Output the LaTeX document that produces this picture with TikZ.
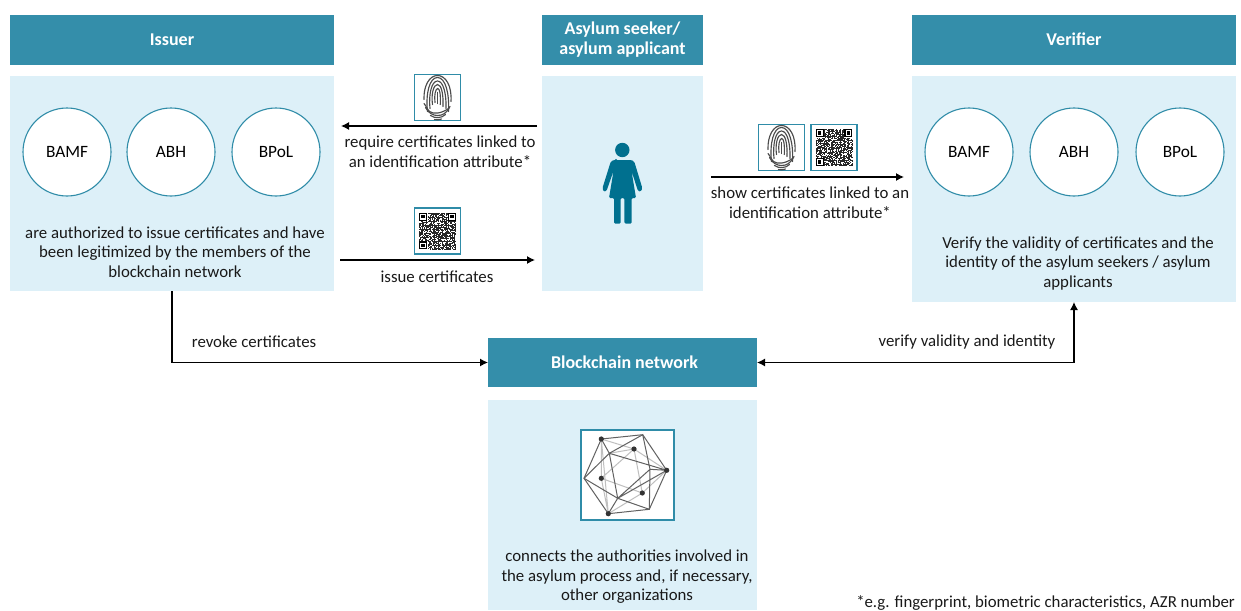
\documentclass[tikz,border=0pt]{standalone}
\usepackage{fontspec}
\setmainfont{Carlito}
\usetikzlibrary{arrows.meta}
\definecolor{headblue}{HTML}{348EAA}
\definecolor{panelblue}{HTML}{DDF0F8}
\definecolor{ringblue}{HTML}{2F8CA8}
\definecolor{personblue}{HTML}{00708F}
\newcommand\droptext[1]{\raisebox{-1pt}{#1}}
\tikzset{
  headbox/.style={fill=headblue,text=white,font=\fontsize{18}{20}\selectfont\bfseries,align=center,inner sep=0pt,outer sep=0pt},
  panelbox/.style={fill=panelblue,inner sep=0pt,outer sep=0pt},
  ringnode/.style={circle,draw=ringblue,line width=1.1pt,fill=white,minimum size=88pt,inner sep=0pt,font=\fontsize{17.3}{20}\selectfont},
  lbl/.style={align=center,inner sep=0pt,font=\fontsize{16.8}{19.5}\selectfont,text=black!90},
  iconbox/.style={draw=ringblue,line width=1.3pt,fill=white,minimum size=46pt,inner sep=0pt},
  flow/.style={line width=1.2pt,-{Latex[length=8pt,width=8pt]}},
  flowboth/.style={line width=1.2pt,{Latex[length=8pt,width=8pt]}-{Latex[length=8pt,width=8pt]}},
  fpline/.style={draw=black!70,line width=1.15pt,line cap=round},
  meshdark/.style={draw=black!62,line width=1pt},
  meshlight/.style={draw=black!25,line width=1pt},
  fingerprint/.pic={
    \draw[fpline] (-10,14) .. controls (-12,-4) and (-8,-20) .. (0,-20) .. controls (8,-20) and (12,-4) .. (11,14);
    \draw[fpline] (-7.5,11) .. controls (-9,-3) and (-6,-16.5) .. (0,-16.5) .. controls (6,-16.5) and (9,-3) .. (8.5,11);
    \draw[fpline] (-5,7) .. controls (-6.5,-3) and (-4,-13) .. (0,-13) .. controls (4,-13) and (6,-3) .. (5.5,9);
    \draw[fpline] (-2.5,5) .. controls (-3.5,-2) and (-2,-9) .. (0.2,-9) .. controls (2.5,-9) and (3.2,-2) .. (2.8,7);
    \draw[fpline] (0.2,6) -- (0.2,-5);
    \draw[fpline] (-13.5,2) .. controls (-14,-12) and (-8,-22) .. (0,-22) .. controls (8,-22) and (14.5,-12) .. (13.5,4);
    \draw[fpline] (-13.5,6) .. controls (-10,10) and (-11,12) .. (-8,14) .. controls (-4,17) and (4,16) .. (11,11);
    \draw[fpline] (-12,10) .. controls (-9,16) and (-4,18) .. (0,18) .. controls (5,18) and (9,16) .. (12.5,9);
    \draw[fpline] (-7,18) .. controls (-3,21) and (4,21) .. (8,17);
    \draw[fpline] (-3,22) .. controls (-1,22.5) and (2,22.5) .. (4,21.5);
  },
  qrcode/.pic={
    \pgfmathsetseed{4711}
    \foreach \i in {0,...,45}{\foreach \j in {0,...,45}{
      \pgfmathparse{rnd<0.55?1:0}
      \ifnum\pgfmathresult=1
        \fill[black!85] ({-18.4+0.8*\i},{-18.4+0.8*\j}) rectangle +(0.8,0.8);
      \fi
    }}
    \foreach \cx/\cy in {-14.4/-14.4,14.4/-14.4,-14.4/14.4}{
      \fill[white] (\cx-4.4,\cy-4.4) rectangle (\cx+4.4,\cy+4.4);
      \fill[black] (\cx-4,\cy-4) rectangle (\cx+4,\cy+4);
      \fill[white] (\cx-2.9,\cy-2.9) rectangle (\cx+2.9,\cy+2.9);
      \fill[black] (\cx-1.7,\cy-1.7) rectangle (\cx+1.7,\cy+1.7);
    }
  }
}
\begin{document}
\begin{tikzpicture}[x=1pt,y=-1pt]
\useasboundingbox (0,0) rectangle (1241,610);
% panels and headers
\node[headbox,minimum width=324pt,minimum height=50pt] (issuerhead) at (172,40) {Issuer};
\node[panelbox,minimum width=324pt,minimum height=215pt] (issuerpanel) at (172,183.5) {};
\node[headbox,minimum width=161pt,minimum height=50pt] (seekerhead) at (622.5,40) {\droptext{Asylum seeker/}\\\droptext{asylum applicant}};
\node[panelbox,minimum width=161pt,minimum height=215pt] (seekerpanel) at (622.5,183.5) {};
\node[headbox,minimum width=324pt,minimum height=50pt] (verifierhead) at (1074,40) {\raisebox{.8pt}{Verifier}};
\node[panelbox,minimum width=324pt,minimum height=226pt] (verifierpanel) at (1074,189) {};
\node[headbox,minimum width=269pt,minimum height=49pt] (chainhead) at (622.5,362.5) {\hspace*{4pt}\droptext{Blockchain network}};
\node[panelbox,minimum width=269pt,minimum height=210pt] (chainpanel) at (622.5,505) {};
% rings
\node[ringnode] (bamfa) at (67,152) {BAMF};
\node[ringnode] (abha) at (171,152) {ABH};
\node[ringnode] (bpola) at (276,152) {BPoL};
\node[ringnode] (bamfb) at (969,152) {BAMF};
\node[ringnode] (abhb) at (1074,152) {ABH};
\node[ringnode] (bpolb) at (1180,152) {BPoL};
% panel texts
\node[lbl] (issuertext) at (175,252) {are authorized to issue certificates and have\\been legitimized by the members of the\\blockchain network};
\node[lbl] (verifiertext) at (1078,263.5) {Verify the validity of certificates and the\\identity of the asylum seekers / asylum\\applicants};
\node[lbl] (chaintext) at (627,577) {connects the authorities involved in\\the asylum process and, if necessary,\\other organizations};
% person
\fill[personblue] (622.3,150) circle (7.2pt);
\fill[personblue,rounded corners=1.2pt] (616,160) -- (629,160) .. controls (632,160) and (634,161) .. (635,164) -- (642.3,188) -- (641,191.5) -- (638,191) -- (631.5,171) -- (636,198) -- (631.7,198) -- (631.7,223.5) -- (624.4,223.5) -- (624.4,198) -- (620.7,198) -- (620.7,223.5) -- (614,223.5) -- (614,198) -- (609,198) -- (613.5,171) -- (606.5,191) -- (603.5,191.5) -- (602.5,188) -- (610,164) .. controls (611,161) and (613,160) .. (616,160) -- cycle;
% icons
\node[iconbox] (fpa) at (437.5,97.5) {};
\pic at (fpa) {fingerprint};
\node[iconbox] (qra) at (437.5,231) {};
\pic at (qra) {qrcode};
\node[iconbox] (fpb) at (781.5,147.5) {};
\pic at (fpb) {fingerprint};
\node[iconbox] (qrb) at (834,147.5) {};
\pic at (qrb) {qrcode};
% network icon
\node[iconbox,minimum width=93pt,minimum height=90pt] (netbox) at (627.5,475) {};
\coordinate (A) at (601.3,439);
\coordinate (B) at (634,449);
\coordinate (C) at (666.7,470.3);
\coordinate (D) at (601.3,478.3);
\coordinate (E) at (642.3,493);
\coordinate (F) at (608.3,513.7);
\coordinate (G) at (642.7,434.7);
\coordinate (H) at (609.3,453.3);
\coordinate (I) at (650,469.3);
\coordinate (J) at (584,478.3);
\coordinate (K) at (617.7,498.3);
\coordinate (L) at (649.3,509.3);
\draw[meshlight] (A)--(B) (B)--(C) (B)--(E) (D)--(B) (D)--(E) (D)--(F) (D)--(A) (E)--(F) (E)--(C) (H)--(B) (F)--(A);
\draw[meshdark] (A)--(G)--(C)--(L)--(F)--(J)--cycle;
\draw[meshdark] (J)--(H)--(G) (H)--(C) (H)--(K)--(L) (K)--(J) (K)--(I)--(G) (I)--(L) (K)--(C) (F)--(K) (I)--(C) (A)--(H);
\foreach \p in {A,B,C,D,E,F}{\fill[black!80] (\p) circle (2.6pt);}
% connectors
\coordinate (reqstart) at (537,126);
\coordinate (reqend) at (341,126);
\coordinate (issstart) at (340,260);
\coordinate (issend) at (535,260);
\coordinate (showstart) at (711,177);
\coordinate (showend) at (904,177);
\draw[flow] (reqstart) -- (reqend);
\draw[flow] (issstart) -- (issend);
\draw[flow] (showstart) -- (showend);
\draw[flow] (issuerpanel.south) |- (chainhead.west);
\draw[flowboth] (chainhead.east) -| (verifierpanel.south);
% connector labels
\node[lbl] (reqlabel) at (440,151.5) {require certificates linked to\\an identification attribute*};
\node[lbl] (isslabel) at (437,276.5) {issue certificates};
\node[lbl] (showlabel) at (810,202.5) {show certificates linked to an\\identification attribute*};
\node[lbl] (revlabel) at (254,341.5) {revoke certificates};
\node[lbl] (verlabel) at (967,342) {verify validity and identity};
\node[lbl,anchor=east] (footnote) at (1235,602.5) {*e.g. fingerprint, biometric characteristics, AZR number};
\end{tikzpicture}
\end{document}
